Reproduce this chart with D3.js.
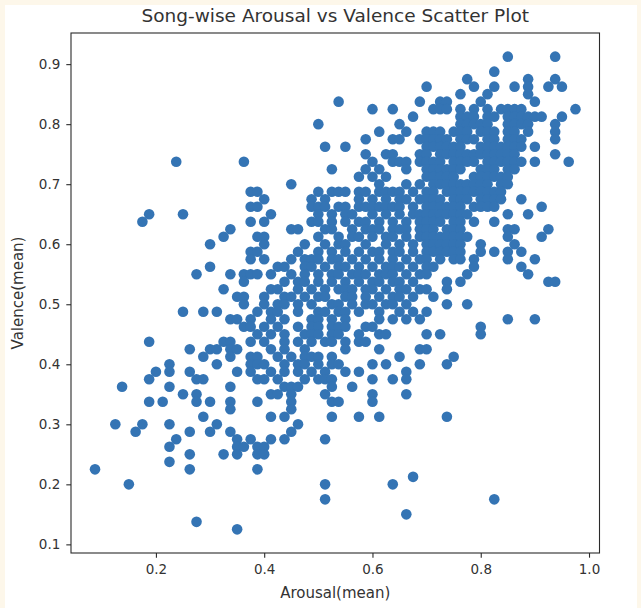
<!DOCTYPE html>
<html>
<head>
<meta charset="utf-8">
<script src="https://cdn.jsdelivr.net/npm/d3@7"></script>
<style>
  html, body { margin: 0; padding: 0; background: #fdf7ea; }
  svg { display: block; }
  text { font-family: "DejaVu Sans", sans-serif; fill: #333; }
</style>
</head>
<body>
<svg id="chart" width="641" height="608"></svg>
<script>
// ---- data ----
const title = "Song-wise Arousal vs Valence Scatter Plot";
const xLabel = "Arousal(mean)";
const yLabel = "Valence(mean)";
const xTicks = [0.2, 0.4, 0.6, 0.8, 1.0];
const yTicks = [0.1, 0.2, 0.3, 0.4, 0.5, 0.6, 0.7, 0.8, 0.9];

// valence value of each row, and the arousal values of the songs on that row
const valenceRows = [
  0.9125, 0.8875, 0.875, 0.8625, 0.85, 0.8375, 0.825, 0.8125, 0.8, 0.7875,
  0.775, 0.7625, 0.75, 0.7375, 0.725, 0.7125, 0.7, 0.6875, 0.675, 0.6625,
  0.65, 0.6375, 0.625, 0.6125, 0.6, 0.5875, 0.575, 0.5625, 0.55, 0.5375,
  0.525, 0.5125, 0.5, 0.4875, 0.475, 0.4625, 0.45, 0.4375, 0.425, 0.4125,
  0.4, 0.3875, 0.375, 0.3625, 0.35, 0.3375, 0.325, 0.3125, 0.3, 0.2875,
  0.275, 0.2625, 0.25, 0.2375, 0.225, 0.2125, 0.2, 0.175, 0.15, 0.1375, 0.125
];
const arousalRows = [
  [0.85, 0.9375],
  [0.825],
  [0.775, 0.8875, 0.9375],
  [0.7, 0.7875, 0.825, 0.8625, 0.8875, 0.925, 0.95],
  [0.7625, 0.8125, 0.8875],
  [0.5375, 0.6875, 0.725, 0.7375, 0.8, 0.9],
  [0.6, 0.6375, 0.7125, 0.725, 0.7375, 0.7625, 0.7875, 0.8125, 0.8375, 0.85, 0.8625, 0.875, 0.975],
  [0.675, 0.7625, 0.775, 0.7875, 0.8125, 0.825, 0.85, 0.8625, 0.875, 0.8875, 0.9, 0.9125, 0.95],
  [0.5, 0.65, 0.7625, 0.775, 0.7875, 0.8, 0.8125, 0.85, 0.8625, 0.875, 0.8875, 0.9375],
  [0.6125, 0.6625, 0.7, 0.7125, 0.725, 0.75, 0.7625, 0.775, 0.8, 0.8125, 0.825, 0.85, 0.8625, 0.8875, 0.9375],
  [0.5875, 0.6375, 0.65, 0.6875, 0.7, 0.7125, 0.725, 0.7375, 0.7625, 0.775, 0.7875, 0.8125, 0.825, 0.85, 0.8625, 0.875, 0.9375],
  [0.5125, 0.55, 0.7, 0.7125, 0.725, 0.7375, 0.75, 0.7625, 0.8, 0.8125, 0.825, 0.8375, 0.85, 0.8625, 0.875, 0.9],
  [0.5875, 0.625, 0.6375, 0.6875, 0.7, 0.725, 0.7375, 0.75, 0.7625, 0.775, 0.7875, 0.8, 0.8125, 0.825, 0.8375, 0.85, 0.8625, 0.9375],
  [0.2375, 0.3625, 0.6, 0.6375, 0.65, 0.6625, 0.6875, 0.7, 0.7125, 0.725, 0.75, 0.7625, 0.775, 0.7875, 0.8125, 0.825, 0.8375, 0.85, 0.8625, 0.875, 0.9, 0.9625],
  [0.525, 0.5875, 0.6125, 0.6625, 0.7, 0.7125, 0.725, 0.7375, 0.75, 0.7625, 0.8, 0.8125, 0.825, 0.85, 0.8625],
  [0.575, 0.6, 0.625, 0.7, 0.7125, 0.725, 0.7375, 0.75, 0.7875, 0.8, 0.8125, 0.825, 0.8375, 0.85],
  [0.45, 0.6125, 0.6625, 0.6875, 0.7125, 0.725, 0.7375, 0.75, 0.7625, 0.775, 0.7875, 0.8, 0.8125, 0.8375, 0.85],
  [0.375, 0.3875, 0.5, 0.525, 0.5375, 0.55, 0.575, 0.5875, 0.6125, 0.625, 0.6375, 0.65, 0.675, 0.7, 0.7125, 0.7375, 0.75, 0.7625, 0.775, 0.7875, 0.8, 0.8125, 0.825, 0.8375],
  [0.4, 0.4875, 0.5125, 0.575, 0.6, 0.625, 0.65, 0.6625, 0.6875, 0.7, 0.7125, 0.725, 0.75, 0.7625, 0.775, 0.8, 0.8125, 0.825, 0.8375, 0.875],
  [0.375, 0.3875, 0.4875, 0.5, 0.5125, 0.5375, 0.55, 0.575, 0.5875, 0.6, 0.6125, 0.625, 0.6375, 0.65, 0.675, 0.7, 0.7125, 0.725, 0.7375, 0.75, 0.7625, 0.7875, 0.8, 0.8125, 0.825, 0.9125],
  [0.1875, 0.25, 0.4125, 0.5, 0.525, 0.55, 0.5625, 0.6, 0.625, 0.65, 0.675, 0.6875, 0.7, 0.7125, 0.725, 0.7375, 0.75, 0.7625, 0.775, 0.85, 0.8875],
  [0.175, 0.375, 0.4, 0.4875, 0.5, 0.525, 0.55, 0.575, 0.5875, 0.6125, 0.6375, 0.6625, 0.6875, 0.7, 0.7125, 0.725, 0.75, 0.7625, 0.7875, 0.825],
  [0.3375, 0.45, 0.4625, 0.5125, 0.525, 0.5625, 0.5875, 0.6, 0.6125, 0.6375, 0.65, 0.6625, 0.6875, 0.7, 0.7125, 0.7375, 0.75, 0.7625, 0.85, 0.8625, 0.925],
  [0.325, 0.3875, 0.4, 0.5, 0.5375, 0.5625, 0.575, 0.6, 0.625, 0.6375, 0.6625, 0.6875, 0.7, 0.7125, 0.725, 0.7375, 0.75, 0.7625, 0.775, 0.85, 0.9125],
  [0.3, 0.4, 0.475, 0.5125, 0.5375, 0.55, 0.5875, 0.625, 0.65, 0.675, 0.7, 0.7125, 0.725, 0.7375, 0.75, 0.7625, 0.8, 0.8625],
  [0.375, 0.3875, 0.4625, 0.5, 0.525, 0.55, 0.575, 0.6, 0.6125, 0.6375, 0.65, 0.675, 0.7, 0.7125, 0.725, 0.7375, 0.75, 0.7625, 0.8, 0.825, 0.85, 0.875],
  [0.375, 0.4, 0.45, 0.475, 0.4875, 0.5, 0.525, 0.5375, 0.5625, 0.5875, 0.6125, 0.6375, 0.6625, 0.6875, 0.7, 0.725, 0.75, 0.7625, 0.7875, 0.85, 0.9],
  [0.3, 0.425, 0.4375, 0.475, 0.4875, 0.5125, 0.5375, 0.55, 0.575, 0.6, 0.625, 0.6375, 0.65, 0.675, 0.7, 0.7125, 0.7875, 0.875],
  [0.275, 0.3375, 0.3625, 0.375, 0.3875, 0.4125, 0.45, 0.475, 0.5, 0.525, 0.5375, 0.5625, 0.575, 0.5875, 0.6125, 0.625, 0.6375, 0.6625, 0.6875, 0.7, 0.775, 0.8875],
  [0.3625, 0.4375, 0.4625, 0.475, 0.5, 0.525, 0.55, 0.575, 0.6, 0.6125, 0.6375, 0.65, 0.675, 0.7375, 0.7625, 0.925, 0.9375],
  [0.325, 0.4125, 0.425, 0.4625, 0.4875, 0.5125, 0.5375, 0.55, 0.5625, 0.5875, 0.6, 0.625, 0.65, 0.6625, 0.6875, 0.7, 0.7375],
  [0.35, 0.3625, 0.4, 0.4375, 0.45, 0.475, 0.5, 0.5125, 0.55, 0.5625, 0.5875, 0.6125, 0.6375, 0.65, 0.675, 0.7125],
  [0.3625, 0.4, 0.425, 0.4375, 0.4625, 0.4875, 0.525, 0.5375, 0.5625, 0.5875, 0.6, 0.625, 0.6375, 0.6625, 0.7375, 0.775],
  [0.25, 0.2875, 0.3125, 0.3875, 0.4125, 0.425, 0.4625, 0.5, 0.5125, 0.5375, 0.55, 0.575, 0.6125, 0.65, 0.675, 0.7],
  [0.3375, 0.35, 0.375, 0.4125, 0.4375, 0.4875, 0.5, 0.525, 0.55, 0.6125, 0.6375, 0.6625, 0.6875, 0.85, 0.9],
  [0.3625, 0.375, 0.4, 0.425, 0.4625, 0.4875, 0.5, 0.525, 0.5375, 0.55, 0.5875, 0.6, 0.8],
  [0.3875, 0.4125, 0.4375, 0.475, 0.4875, 0.5, 0.525, 0.5375, 0.575, 0.6125, 0.625, 0.7, 0.725, 0.8],
  [0.1875, 0.325, 0.3375, 0.375, 0.4, 0.4375, 0.4625, 0.4875, 0.5125, 0.525, 0.55, 0.575, 0.5875],
  [0.2625, 0.3, 0.3125, 0.3375, 0.35, 0.4125, 0.4375, 0.475, 0.55, 0.6125, 0.6875, 0.7],
  [0.2875, 0.3375, 0.375, 0.3875, 0.425, 0.45, 0.475, 0.4875, 0.5, 0.525, 0.65, 0.75],
  [0.225, 0.3125, 0.375, 0.3875, 0.4, 0.4375, 0.4625, 0.475, 0.5, 0.525, 0.5375, 0.6, 0.625, 0.6875, 0.7375],
  [0.2, 0.225, 0.2625, 0.35, 0.375, 0.4125, 0.4375, 0.4625, 0.4875, 0.5125, 0.55, 0.575, 0.6625],
  [0.1875, 0.275, 0.2875, 0.3875, 0.4, 0.425, 0.475, 0.5, 0.5125, 0.525, 0.6, 0.6375, 0.6625],
  [0.1375, 0.225, 0.3375, 0.4375, 0.45, 0.4625, 0.525, 0.5625],
  [0.25, 0.275, 0.4125, 0.425, 0.45, 0.5125, 0.6, 0.6625],
  [0.1875, 0.2125, 0.275, 0.3, 0.3375, 0.3875, 0.45, 0.525, 0.5375, 0.6],
  [0.3375, 0.45],
  [0.2875, 0.4125, 0.4375, 0.525, 0.575, 0.6125, 0.7375],
  [0.125, 0.175, 0.225, 0.3125, 0.4625],
  [0.1625, 0.2625, 0.3, 0.3375, 0.45],
  [0.2375, 0.35, 0.375, 0.4125, 0.4375, 0.5125],
  [0.225, 0.35, 0.3625, 0.3875, 0.4],
  [0.2625, 0.325, 0.35, 0.3875, 0.4],
  [0.225],
  [0.0875, 0.2625, 0.3875],
  [0.675],
  [0.15, 0.5125, 0.6375],
  [0.5125, 0.825],
  [0.6625],
  [0.275],
  [0.35]
];

// ---- build point list ----
const points = [];
valenceRows.forEach((v, i) => arousalRows[i].forEach(a => points.push({ arousal: a, valence: v })));

// ---- layout ----
const W = 641, H = 608;
const plot = { left: 71, right: 599.5, top: 33, bottom: 553 };
const svg = d3.select("#chart");

// figure background (white card inside light frame)
svg.append("rect").attr("x", 0).attr("y", 0).attr("width", W).attr("height", H).attr("fill", "#fdf7ea");
svg.append("rect").attr("x", 5).attr("y", 5).attr("width", W - 9).attr("height", H - 5).attr("fill", "#ffffff");

const xMin = d3.min(points, d => d.arousal), xMax = d3.max(points, d => d.arousal);
const yMin = d3.min(points, d => d.valence), yMax = d3.max(points, d => d.valence);
const xPad = (xMax - xMin) * 0.05, yPad = (yMax - yMin) * 0.05;

const x = d3.scaleLinear().domain([xMin - xPad, xMax + xPad]).range([plot.left, plot.right]);
const y = d3.scaleLinear().domain([yMin - yPad, yMax + yPad]).range([plot.bottom, plot.top]);

// points
svg.append("g")
  .selectAll("circle")
  .data(points)
  .join("circle")
  .attr("cx", d => x(d.arousal))
  .attr("cy", d => y(d.valence))
  .attr("r", 5.3)
  .attr("fill", "#3474b4");

// frame
svg.append("rect")
  .attr("x", plot.left).attr("y", plot.top)
  .attr("width", plot.right - plot.left).attr("height", plot.bottom - plot.top)
  .attr("fill", "none").attr("stroke", "#2a2a2a").attr("stroke-width", 1.1);

// axes
const xAxis = svg.append("g")
  .attr("transform", `translate(0,${plot.bottom})`)
  .call(d3.axisBottom(x).tickValues(xTicks).tickFormat(d3.format(".1f")).tickSize(4.7).tickPadding(7));
const yAxis = svg.append("g")
  .attr("transform", `translate(${plot.left},0)`)
  .call(d3.axisLeft(y).tickValues(yTicks).tickFormat(d3.format(".1f")).tickSize(4.7).tickPadding(6));

[xAxis, yAxis].forEach(g => {
  g.select(".domain").remove();
  g.selectAll(".tick line").attr("stroke", "#2a2a2a").attr("stroke-width", 1.1);
  g.selectAll(".tick text").attr("font-size", 13.5).attr("font-family", "DejaVu Sans, sans-serif").attr("fill", "#333");
});

// title and labels
svg.append("text")
  .attr("x", (plot.left + plot.right) / 2).attr("y", 22)
  .attr("text-anchor", "middle").attr("font-size", 18.5)
  .text(title);
svg.append("text")
  .attr("x", (plot.left + plot.right) / 2).attr("y", 598)
  .attr("text-anchor", "middle").attr("font-size", 15)
  .text(xLabel);
svg.append("text")
  .attr("transform", `translate(23,${(plot.top + plot.bottom) / 2}) rotate(-90)`)
  .attr("text-anchor", "middle").attr("font-size", 15)
  .text(yLabel);
</script>
</body>
</html>
